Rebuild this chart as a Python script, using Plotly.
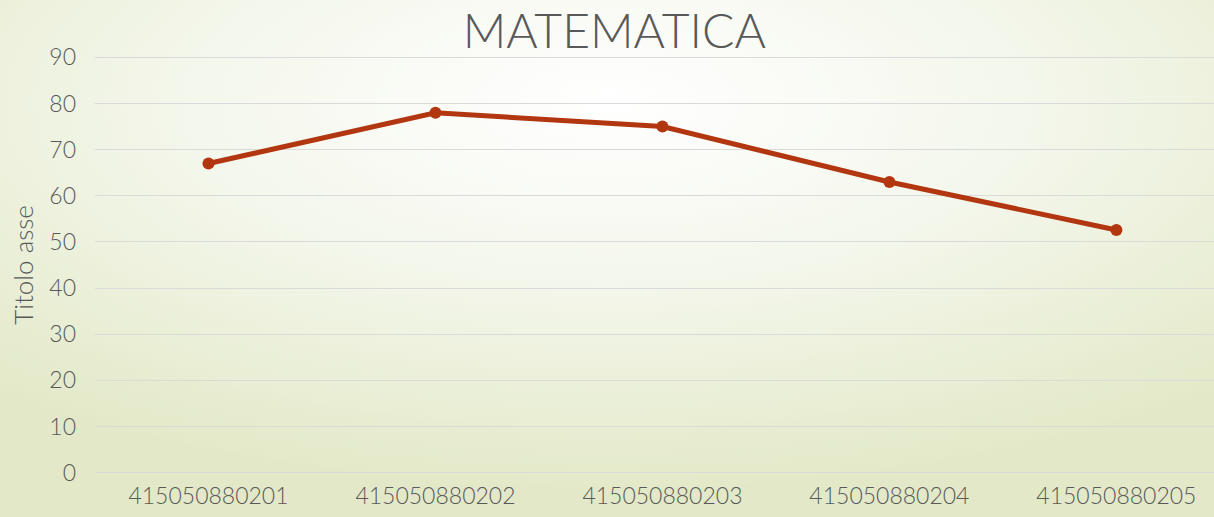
import plotly.graph_objects as go
import urllib.parse

categories = ["415050880201", "415050880202", "415050880203", "415050880204", "415050880205"]
values = [67, 78, 75, 63, 52.6]
y_ticks = [0, 10, 20, 30, 40, 50, 60, 70, 80, 90]

svg = (
    "<svg xmlns='http://www.w3.org/2000/svg' width='1214' height='517' preserveAspectRatio='none'>"
    "<defs><radialGradient id='g' cx='50%' cy='20%' r='75%' fx='50%' fy='20%'>"
    "<stop offset='0%' stop-color='#FFFFFF'/>"
    "<stop offset='45%' stop-color='#F4F7EC'/>"
    "<stop offset='100%' stop-color='#E3E9C8'/>"
    "</radialGradient></defs>"
    "<rect width='1214' height='517' fill='url(#g)'/></svg>"
)
bg_uri = "data:image/svg+xml;charset=utf-8," + urllib.parse.quote(svg)

font_family = "Lato, 'Open Sans', sans-serif"
gray = "#595959"

H_PLOT = 517 - 56 - 43

fig = go.Figure()
fig.add_trace(go.Scatter(
    x=categories, y=values, mode="lines+markers",
    line=dict(color="#B2360F", width=5),
    marker=dict(color="#B2360F", size=12),
    showlegend=False, hoverinfo="x+y",
))

fig.update_layout(
    width=1214, height=517,
    margin=dict(l=95, r=0, t=56, b=43),
    paper_bgcolor="#F2F5E6",
    plot_bgcolor="rgba(0,0,0,0)",
    images=[dict(source=bg_uri, xref="paper", yref="paper", x=-95/1119, y=1+56/H_PLOT,
                 sizex=1214/1119, sizey=517/H_PLOT, sizing="stretch", layer="below",
                 xanchor="left", yanchor="top")],
    title=dict(text="MATEMATICA", x=0.506, xanchor="center", y=0.94, yanchor="middle",
               font=dict(family=font_family, size=48, color=gray, weight=300)),
    font=dict(family=font_family, color=gray),
    xaxis=dict(type="category", range=[-0.5, 4.43], showgrid=False, showline=False,
               zeroline=False, ticks="", tickfont=dict(size=23, color=gray, weight=300),
               ticklabelstandoff=6),
    yaxis=dict(range=[-0.3, 90.3], tickvals=y_ticks, showgrid=True, gridcolor="#DADADA",
               gridwidth=1.2, zeroline=False, showline=False, ticks="",
               tickfont=dict(size=23, color=gray, weight=300), ticklabelstandoff=18,
               title=dict(text="Titolo asse", font=dict(size=26, color=gray, weight=300),
                          standoff=8)),
)

fig.write_html("out.html", config={"displayModeBar": False},
               post_script="document.body.style.margin='0';document.body.style.overflow='hidden';")
